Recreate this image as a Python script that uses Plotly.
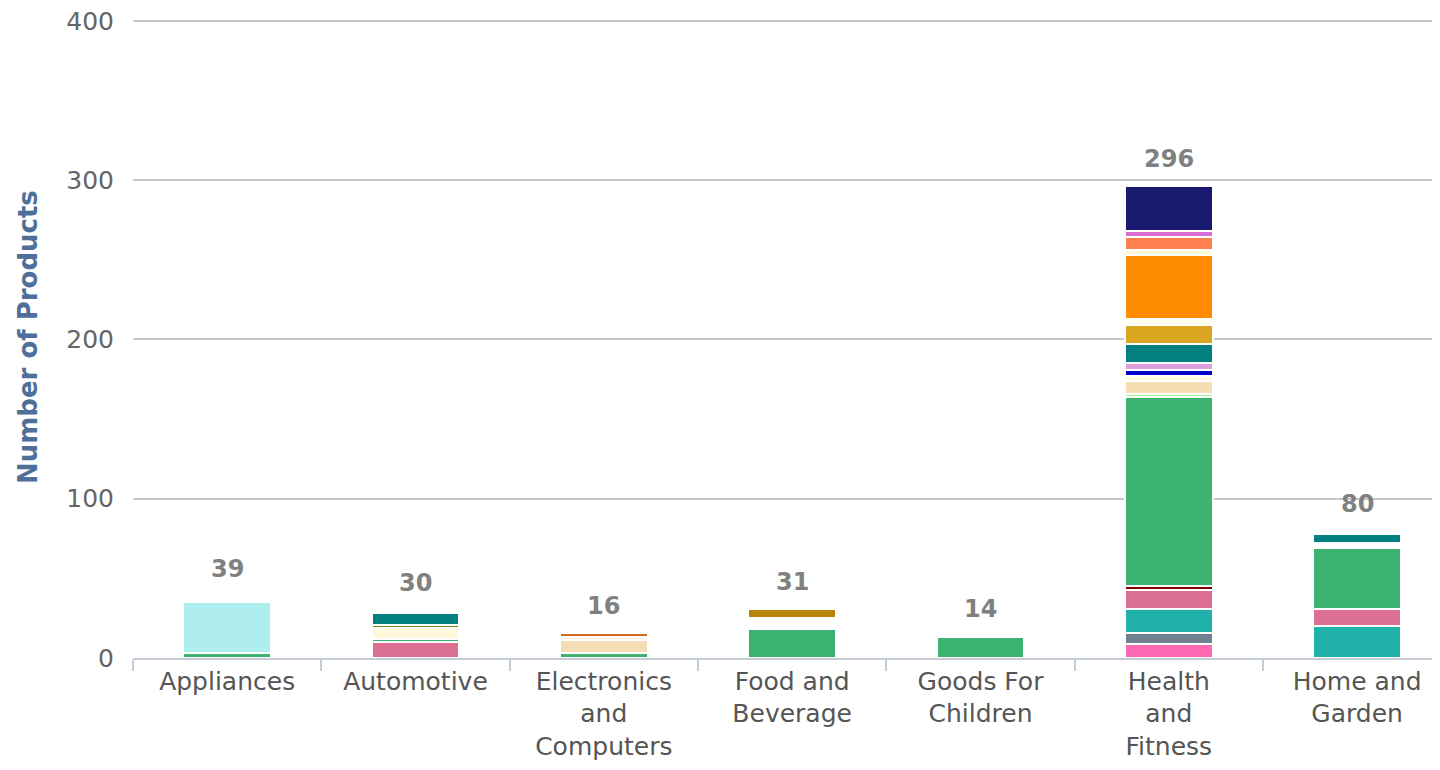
import plotly.graph_objects as go

categories = ["Appliances", "Automotive", "Electronics<br>and<br>Computers", "Food and<br>Beverage",
              "Goods For<br>Children", "Health<br>and<br>Fitness", "Home and<br>Garden"]

# series (bottom -> top), values per category
series_names = ["S01", "S02", "S03", "S04", "S05", "S06", "S07", "S08", "S09", "S10", "S11", "S12",
                "S13", "S14", "S15", "S16", "S17", "S18", "S19", "S20", "S21", "S22", "S23", "S24", "S25"]
series_colors = ["#FF69B4", "#708090", "#20B2AA", "#DB7093", "#800000", "#3CB371", "#AFEEEE", "#FFFFFF",
                 "#98FB98", "#F5DEB3", "#FFF8DC", "#6B8E23", "#0000CD", "#DDA0DD", "#008080", "#B8860B",
                 "#DAA520", "#FFFFF0", "#FF8C00", "#FFFACD", "#FF7F50", "#D2691E", "#DA70D6", "#191970",
                 "#FFFFFF"]
s01 = [0, 0, 0, 0, 0, 9, 0]
s02 = [0, 0, 0, 0, 0, 7, 0]
s03 = [0, 0, 0, 0, 0, 15, 20]
s04 = [0, 10, 0, 0, 0, 12, 11]
s05 = [0, 0, 0, 0, 0, 2, 0]
s06 = [3, 2, 3, 18, 13, 119, 38]
s07 = [32, 0, 0, 0, 0, 0, 0]
s08 = [0, 0, 0, 7, 0, 0, 3]
s09 = [0, 0, 0, 0, 0, 2, 0]
s10 = [0, 0, 8, 0, 0, 8, 0]
s11 = [0, 7, 2, 0, 0, 3, 0]
s12 = [0, 2, 0, 0, 0, 0, 0]
s13 = [0, 0, 0, 0, 0, 4, 0]
s14 = [0, 0, 0, 0, 0, 4, 0]
s15 = [0, 7, 0, 0, 0, 12, 6]
s16 = [0, 0, 0, 6, 0, 0, 0]
s17 = [0, 0, 0, 0, 0, 12, 0]
s18 = [0, 0, 0, 0, 0, 4, 0]
s19 = [0, 0, 0, 0, 0, 40, 0]
s20 = [0, 0, 0, 0, 0, 3, 0]
s21 = [0, 0, 0, 0, 0, 8, 0]
s22 = [0, 0, 3, 0, 0, 0, 0]
s23 = [0, 0, 0, 0, 0, 4, 0]
s24 = [0, 0, 0, 0, 0, 28, 0]
s25 = [4, 2, 0, 0, 1, 0, 2]
series_values = [s01, s02, s03, s04, s05, s06, s07, s08, s09, s10, s11, s12, s13,
                 s14, s15, s16, s17, s18, s19, s20, s21, s22, s23, s24, s25]

y_ticks = [0, 100, 200, 300, 400]

FONT = "DejaVu Sans"
fig = go.Figure()
for name, color, vals in zip(series_names, series_colors, series_values):
    fig.add_trace(go.Bar(x=categories, y=vals, name=name,
                         marker=dict(color=color, line=dict(color="#FFFFFF", width=2)),
                         width=0.467, showlegend=False))

totals = [sum(v[i] for v in series_values) for i in range(len(categories))]
for c, t in zip(categories, totals):
    fig.add_annotation(x=c, y=t, text="<b>" + str(t) + "</b>", showarrow=False, yanchor="middle", yshift=27,
                       font=dict(family=FONT, size=24, color="#808080"))

fig.add_annotation(xref="paper", yref="paper", x=-0.0803, y=0.5, text="<b>Number of Products</b>",
                   textangle=-90, showarrow=False, xanchor="center", yanchor="middle",
                   font=dict(family=FONT, size=26, color="#4d6f99"))

fig.update_layout(
    width=1432, height=754,
    barmode="stack", bargap=0,
    plot_bgcolor="#FFFFFF", paper_bgcolor="#FFFFFF",
    margin=dict(l=125, r=0, t=8, b=104),
    font=dict(family=FONT, size=26, color="#555555"),
)
fig.update_xaxes(type="category", range=[-0.5, 6.44], showline=True, linecolor="#c4ccd6", linewidth=1.5,
                 ticks="outside", tickson="boundaries", ticklen=11, tickcolor="#c4ccd6", tickwidth=1.5,
                 tickfont=dict(family=FONT, size=25, color="#555555"), showgrid=False, automargin=False)
fig.update_yaxes(range=[0, 403], tickvals=y_ticks, showgrid=True, gridcolor="#c8c8c8", gridwidth=1.5,
                 zeroline=False, ticks="", ticklabelstandoff=18, automargin=False, ticklabeloverflow="allow",
                 tickfont=dict(family=FONT, size=25, color="#666666"))

fig.write_html("out.html")
